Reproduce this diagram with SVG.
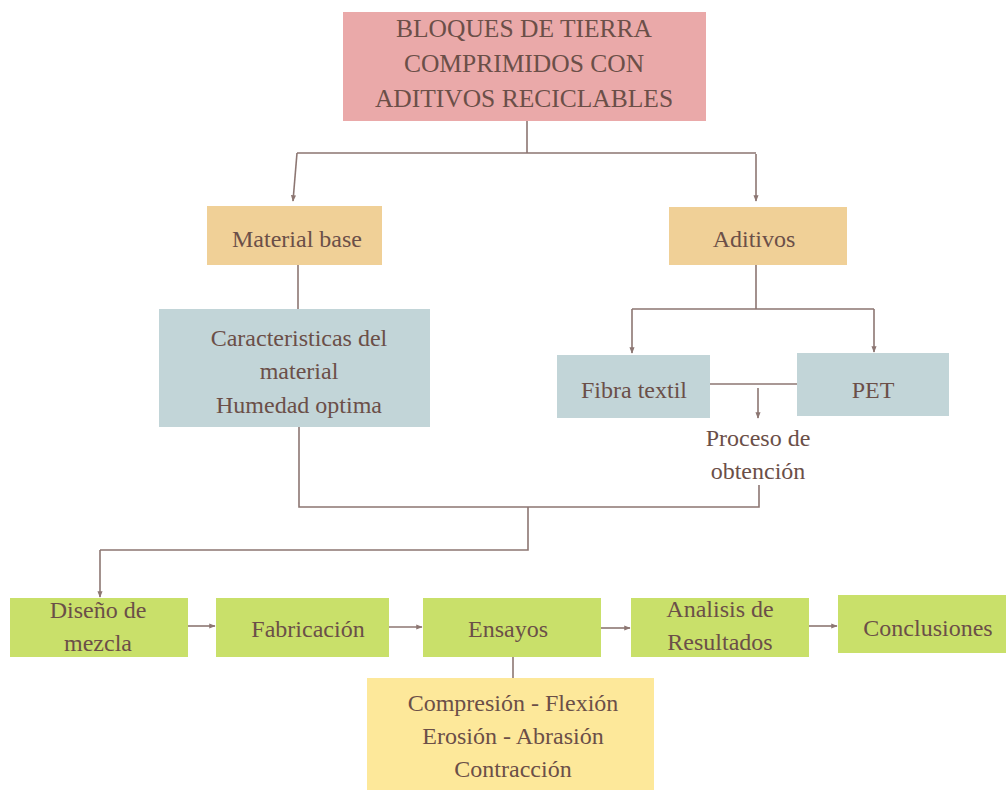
<svg xmlns="http://www.w3.org/2000/svg" width="1006" height="790" viewBox="0 0 1006 790">
<defs>
<style>
.t{font-family:"Liberation Serif","Times New Roman",serif;font-size:24px;fill:#6b4f48;text-anchor:middle}
.tt{font-size:25.5px}
.c{fill:none;stroke:#8c7672;stroke-width:1.6}
.pink{fill:#eaa9a9}
.or{fill:#f0d097}
.bl{fill:#c2d5d8}
.gr{fill:#c9e06a}
.ye{fill:#fde89a}
</style>
<marker id="a" viewBox="0 0 10 10" refX="9" refY="5" markerWidth="4" markerHeight="4" orient="auto-start-reverse"><path d="M0,1 L10,5 L0,9 z" fill="#8c7672"/></marker>
</defs>
<rect width="1006" height="790" fill="#fff"/>
<g id="connectors">
<path class="c" d="M527,121 V153 M297,153 H756"/>
<path class="c" d="M297,153 L293,201" marker-end="url(#a)"/>
<path class="c" d="M756,154 V201" marker-end="url(#a)"/>
<path class="c" d="M298,265 V309"/>
<path class="c" d="M756,265 V309 M632,309 H874"/>
<path class="c" d="M632,309 V353" marker-end="url(#a)"/>
<path class="c" d="M874,309 V352" marker-end="url(#a)"/>
<path class="c" d="M710,384 H797"/>
<path class="c" d="M758,388 V418" marker-end="url(#a)"/>
<path class="c" d="M759,485 V507 H299 V427"/>
<path class="c" d="M528,507 V550 H100"/>
<path class="c" d="M100,550 V597" marker-end="url(#a)"/>
<path class="c" d="M188,626 H215" marker-end="url(#a)"/>
<path class="c" d="M389,627 H422" marker-end="url(#a)"/>
<path class="c" d="M601,628 H630" marker-end="url(#a)"/>
<path class="c" d="M809,626 H837" marker-end="url(#a)"/>
<path class="c" d="M513,657 V678"/>
</g>
<g id="title"><rect class="pink" x="343" y="12" width="363" height="109"/>
<text class="t tt" x="524" y="37">BLOQUES DE TIERRA</text>
<text class="t tt" x="524" y="72">COMPRIMIDOS CON</text>
<text class="t tt" x="524" y="107">ADITIVOS RECICLABLES</text></g>
<g id="material-base"><rect class="or" x="207" y="206" width="175" height="59"/><text class="t" x="297" y="247">Material base</text></g>
<g id="aditivos"><rect class="or" x="669" y="207" width="178" height="58"/><text class="t" x="754" y="247">Aditivos</text></g>
<g id="caracteristicas"><rect class="bl" x="159" y="309" width="271" height="118"/>
<text class="t" x="299" y="346">Caracteristicas del</text>
<text class="t" x="299" y="379">material</text>
<text class="t" x="299" y="413">Humedad optima</text></g>
<g id="fibra"><rect class="bl" x="557" y="355" width="153" height="63"/><text class="t" x="634" y="398">Fibra textil</text></g>
<g id="pet"><rect class="bl" x="797" y="353" width="152" height="63"/><text class="t" x="873" y="398">PET</text></g>
<g id="proceso"><text class="t" x="758" y="446">Proceso de</text><text class="t" x="758" y="479">obtención</text></g>
<g id="diseno"><rect class="gr" x="10" y="598" width="178" height="59"/><text class="t" x="98" y="618">Diseño de</text><text class="t" x="98" y="651">mezcla</text></g>
<g id="fabricacion"><rect class="gr" x="216" y="598" width="173" height="59"/><text class="t" x="308" y="637">Fabricación</text></g>
<g id="ensayos"><rect class="gr" x="423" y="598" width="178" height="59"/><text class="t" x="508" y="637">Ensayos</text></g>
<g id="analisis"><rect class="gr" x="631" y="598" width="178" height="59"/><text class="t" x="720" y="617">Analisis de</text><text class="t" x="720" y="650">Resultados</text></g>
<g id="conclusiones"><rect class="gr" x="838" y="595" width="168" height="58"/><text class="t" x="928" y="636">Conclusiones</text></g>
<g id="pruebas"><rect class="ye" x="367" y="678" width="287" height="112"/>
<text class="t" x="513" y="711">Compresión - Flexión</text>
<text class="t" x="513" y="744">Erosión - Abrasión</text>
<text class="t" x="513" y="777">Contracción</text></g>
</svg>
